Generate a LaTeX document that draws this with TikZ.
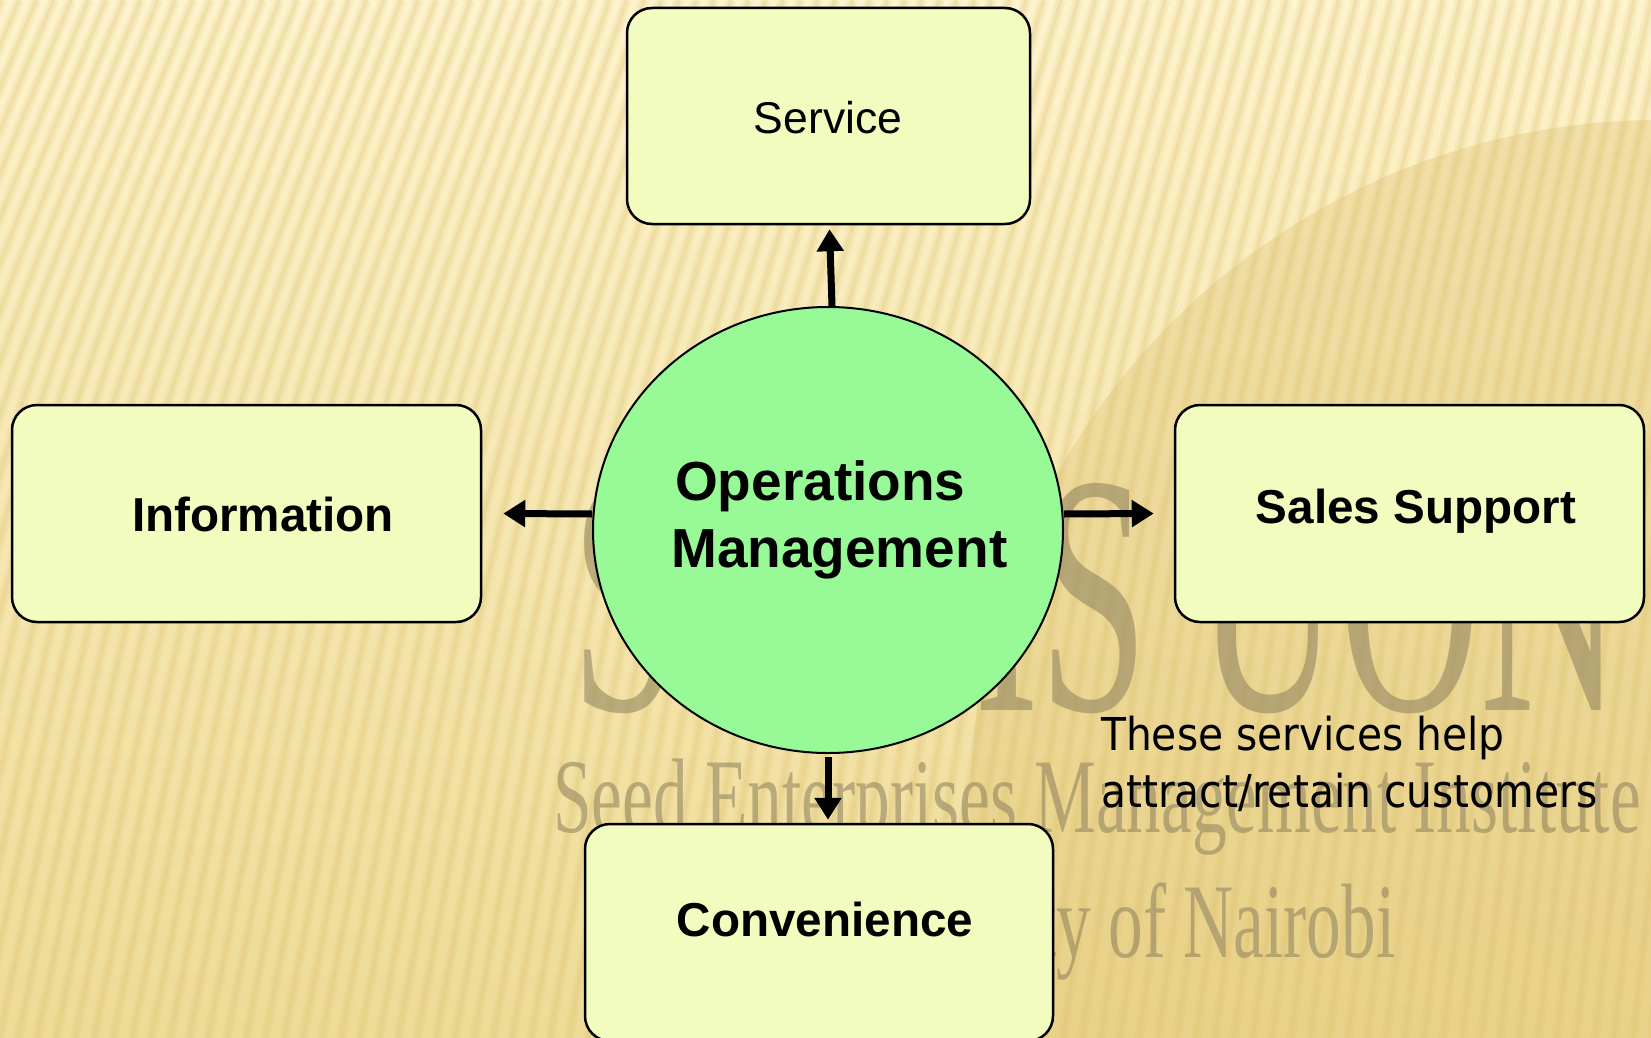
\documentclass[tikz,border=0pt]{standalone}
\usepackage{fontspec}
\setmainfont{Liberation Sans}
\newfontfamily\wmfont{Liberation Serif}
\newfontfamily\notefont[FakeStretch=0.9]{DejaVu Sans}
\usetikzlibrary{arrows.meta,shapes.geometric,calc}

\definecolor{boxfill}{RGB}{242,252,190}
\definecolor{hubfill}{RGB}{152,250,150}
\definecolor{bgtop}{RGB}{253,243,204}
\definecolor{bgbot}{RGB}{238,219,150}
\definecolor{ribcol}{RGB}{222,193,112}
\definecolor{wmark}{RGB}{150,137,98}

\begin{document}
\begin{tikzpicture}[x=1pt,y=-1pt,
  card/.style={draw=black, line width=2.5pt, fill=boxfill, rounded corners=25pt, inner sep=0pt},
  hub/.style={ellipse, draw=black, line width=2pt, fill=hubfill, inner sep=0pt,
              minimum width=470pt, minimum height=446pt},
  boldlbl/.style={font=\fontsize{47.6}{52}\selectfont\bfseries, anchor=base, inner sep=0pt},
  hublbl/.style={font=\fontsize{55}{60}\selectfont\bfseries, anchor=base west, inner sep=0pt},
  notelbl/.style={font=\notefont\fontsize{45.3}{50}\selectfont, anchor=base west, inner sep=0pt},
  wm/.style={text=wmark, text opacity=0.62, anchor=base, inner sep=0pt},
  ribwide/.style={draw=ribcol, line width=10pt, opacity=0.17},
  ribthin/.style={draw=ribcol, line width=4pt, opacity=0.22},
  arr/.style={line width=7pt, -{Triangle[length=22pt,width=26pt]}},
]
\useasboundingbox (0,0) rectangle (1651,1038);
\clip (0,0) rectangle (1651,1038);

% ribbed golden backdrop
\shade[top color=bgtop, bottom color=bgbot] (0,0) rectangle (1651,1038);
\fill[ribcol, opacity=0.35] (1660,810) circle (690pt);
\foreach \i in {0,...,108} {
  \pgfmathsetmacro{\xb}{-400+19*\i}
  \pgfmathsetmacro{\sl}{0.32-0.17*(\xb+400)/2050}
  \pgfmathsetmacro{\xm}{\xb+0.42*\sl*1038}
  \pgfmathsetmacro{\xt}{\xb+\sl*1038}
  \draw[ribwide] (\xb,1038) .. controls (\xm,450) .. (\xt,0);
  \draw[ribthin] (\xb,1038) .. controls (\xm,450) .. (\xt,0);
}

% institute watermark
\node[wm] (wm1) at (1097,710) {\scalebox{0.571}[1]{\wmfont\fontsize{343}{343}\selectfont SEMIS UON}};
\node[wm] (wm2) at (1097,832) {\scalebox{0.654}[1]{\wmfont\fontsize{106}{106}\selectfont Seed Enterprises Management Institute}};
\node[wm] (wm3) at (1097,957) {\scalebox{0.654}[1]{\wmfont\fontsize{106}{106}\selectfont University of Nairobi}};

% boxes and hub
\node[card, minimum width=403pt, minimum height=216pt] (svc)   at (828.5,116) {};
\node[card, minimum width=469pt, minimum height=217pt] (info)  at (246.5,513.5) {};
\node[card, minimum width=469pt, minimum height=217pt] (sales) at (1409.5,513.5) {};
\node[card, minimum width=468pt, minimum height=217pt] (conv)  at (819,932.5) {};
\node[hub] (hub) at (828,530) {};

% labels
\node[font=\fontsize{44.5}{48}\selectfont, anchor=base, inner sep=0pt] (svct) at (828,133) {Service};
\node[boldlbl] (infot)  at (263,531)  {Information};
\node[boldlbl] (salest) at (1416,523) {Sales Support};
\node[boldlbl] (convt)  at (825,936)  {Convenience};
\node[hublbl] (hubt1) at (675,500) {Operations};
\node[hublbl] (hubt2) at (671,567) {Management};
\node[notelbl] (note1) at (1101,750) {These services help};
\node[notelbl] (note2) at (1101,807) {attract/retain customers};

% connectors
\draw[arr] ([xshift=4pt]hub.north) -- ([xshift=1pt,yshift=-4pt]svc.south);
\draw[arr] ([yshift=16pt]hub.west) -- ([xshift=21pt]info.east);
\draw[arr] ([yshift=16pt]hub.east) -- ([xshift=-20pt]sales.west);
\draw[arr, shorten >=3pt] ([yshift=-3pt]hub.south) -- (hub.south |- conv.north);
\end{tikzpicture}
\end{document}
